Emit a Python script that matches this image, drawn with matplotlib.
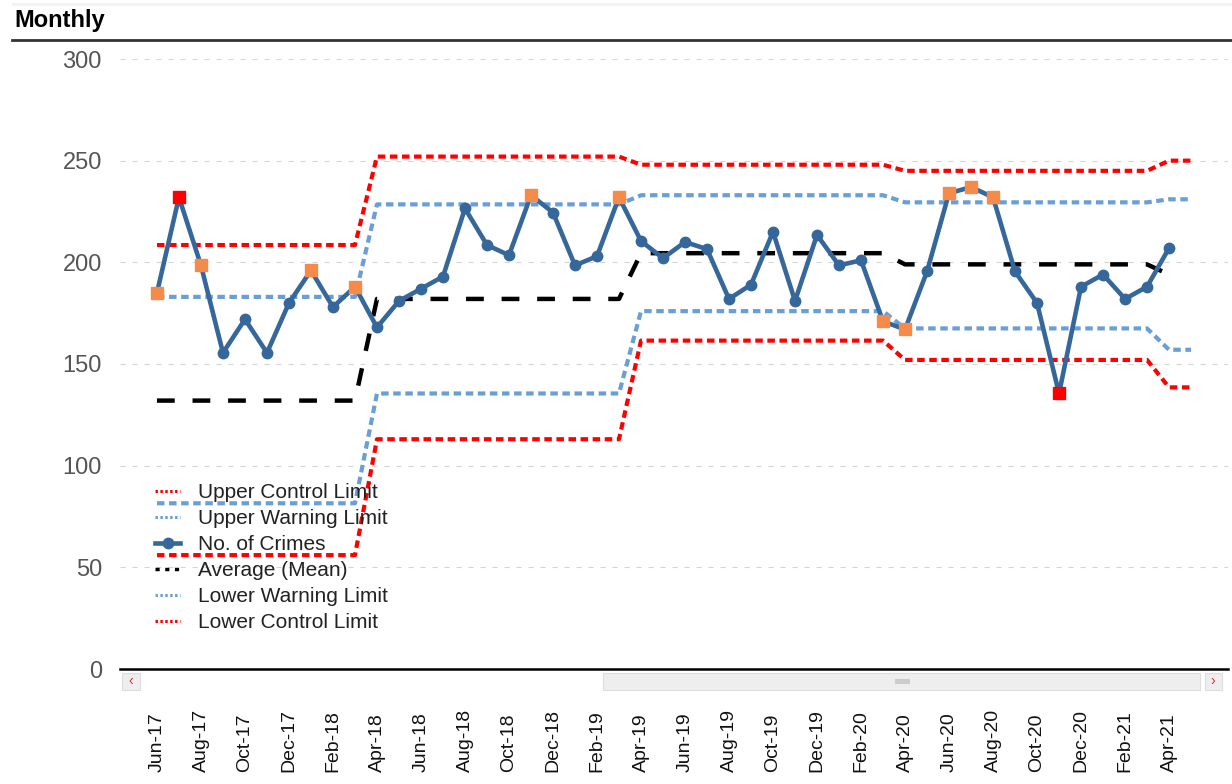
import numpy as np
import pandas as pd
import matplotlib
matplotlib.use('Agg')
import matplotlib.pyplot as plt
from matplotlib.lines import Line2D
from matplotlib.patches import Rectangle

plt.rcParams['font.family'] = ['Liberation Sans', 'DejaVu Sans']

# months Jun-17 .. May-21 (limits run one month past the last count)
months = pd.date_range('2017-06-01', periods=48, freq='MS').strftime('%b-%y').tolist()

crimes = [185, 232, 198.5, 155.5, 172, 155.5, 180, 196, 178, 188,
          168, 181, 187, 193, 226.5, 208.5, 203.5, 233, 224.5, 198.5, 203, 232,
          210.5, 202, 210, 206.5, 182, 189, 215, 181, 213.5, 198.5, 201, 171,
          167, 195.5, 234, 237, 232, 195.5, 180, 135.5, 188, 194, 182, 188,
          207]
warn_pts = [0, 2, 7, 9, 17, 21, 33, 34, 36, 37, 38]   # orange squares
ctrl_pts = [1, 41]                                      # red squares

# limits per phase
phase_len = [10, 12, 12, 12, 2]
mean_vals = [132, 182, 204.5, 199, 194]
uwl_vals = [183, 228.5, 233, 229.5, 231]
lwl_vals = [81.5, 135.5, 176, 167.5, 157]
ucl_vals = [208.5, 252, 248, 245, 250]
lcl_vals = [56, 113, 161.5, 152, 138.5]

mean_line = np.repeat(mean_vals, phase_len)
uwl = np.repeat(uwl_vals, phase_len)
lwl = np.repeat(lwl_vals, phase_len)
ucl = np.repeat(ucl_vals, phase_len)
lcl = np.repeat(lcl_vals, phase_len)

x = np.arange(len(months))
xc = np.arange(len(crimes))

RED = '#ff0000'
LBLUE = '#6a9fd6'
NAVY = '#36679b'
ORANGE = '#f68a48'

W, H = 1232, 784
fig = plt.figure(figsize=(W / 100, H / 100), dpi=100)
ax = fig.add_axes([120 / W, 1 - 669 / H, (1228 - 120) / W, (669 - 59) / H])

dot = dict(lw=3.0, dashes=(1.8, 1.1), dash_capstyle='butt', solid_capstyle='butt')
ax.plot(x, lcl, color=RED, **dot)
ax.plot(x, lwl, color=LBLUE, **dot)
# mean is only drawn as far as the last count
ax.plot(xc, mean_line[:len(crimes)], color='black', lw=3.2, dashes=(4, 4), dash_capstyle='butt')
ax.plot(x, uwl, color=LBLUE, **dot)
ax.plot(x, ucl, color=RED, **dot)

ax.plot(xc, crimes, '-o', color=NAVY, lw=3.3, ms=7.5, zorder=5)
ax.plot(xc[warn_pts], np.array(crimes)[warn_pts], 's', color=ORANGE, ms=8.5, zorder=6)
ax.plot(xc[ctrl_pts], np.array(crimes)[ctrl_pts], 's', color=RED, ms=8.5, zorder=6)

ax.set_xlim(-1.68, 48.68)
ax.set_ylim(0, 300)
ax.set_yticks(np.arange(0, 301, 50))
ax.grid(axis='y', color='#d4d4d4', lw=0.8, linestyle=(0, (4.5, 6.3)))
ax.set_axisbelow(True)
ax.tick_params(axis='y', length=0, pad=13, labelsize=17, labelcolor='#555555')

ax.set_xticks(x[:47:2], labels=months[:47:2])
ax.tick_params(axis='x', length=0, pad=74, labelsize=14, labelcolor='#111111',
               labelrotation=90)
for lab in ax.get_xticklabels():
    lab.set_va('bottom')

for s in ['left', 'top', 'right']:
    ax.spines[s].set_visible(False)
ax.spines['bottom'].set_color('black')
ax.spines['bottom'].set_linewidth(1.8)

# legend
leg_dot = dict(lw=2.2, dashes=(0.8, 0.8), dash_capstyle='butt')
handles = [
    Line2D([], [], color=RED, **leg_dot),
    Line2D([], [], color=LBLUE, **leg_dot),
    Line2D([], [], color=NAVY, lw=3.3, marker='o', ms=7.5),
    Line2D([], [], color='black', lw=2.5, dashes=(1.2, 1.6), dash_capstyle='butt'),
    Line2D([], [], color=LBLUE, **leg_dot),
    Line2D([], [], color=RED, **leg_dot),
]
labels = ['Upper Control Limit', 'Upper Warning Limit', 'No. of Crimes',
          'Average (Mean)', 'Lower Warning Limit', 'Lower Control Limit']
ax.legend(handles, labels, loc='upper left', bbox_to_anchor=(155 / W, 1 - 483 / H),
          bbox_transform=fig.transFigure, frameon=False, fontsize=15,
          handlelength=1.2, handletextpad=0.85, labelspacing=0.34,
          borderpad=0, borderaxespad=0, labelcolor='#222222')

# title and header rule
fig.text(14 / W, 1 - 20 / H, 'Monthly', fontsize=17, fontweight='bold', va='center', ha='left')
fig.add_artist(Line2D([12 / W, 1], [1 - 39.5 / H] * 2, color='#333333', lw=2,
                      transform=fig.transFigure))
fig.add_artist(Rectangle((12 / W, 1 - 6 / H), 1, 3 / H, color='#f3f3f3',
                         transform=fig.transFigure, lw=0))

# scrollbar under the axis
def box(x0, y0, x1, y1, fc, ec):
    fig.add_artist(Rectangle((x0 / W, 1 - y1 / H), (x1 - x0) / W, (y1 - y0) / H,
                             transform=fig.transFigure, fc=fc, ec=ec, lw=0.8))

box(122, 673, 140, 690, '#eeeeee', '#dddddd')
box(603, 673, 1200, 690, '#eeeeee', '#dddddd')
box(1205, 673, 1222, 690, '#eeeeee', '#dddddd')
box(895, 679, 909, 683, '#cccccc', '#cccccc')
fig.text(131 / W, 1 - 681 / H, '‹', color='#cc3333', fontsize=10, ha='center', va='center')
fig.text(1213 / W, 1 - 681 / H, '›', color='#cc3333', fontsize=10, ha='center', va='center')

fig.savefig('out.png', dpi=100)
